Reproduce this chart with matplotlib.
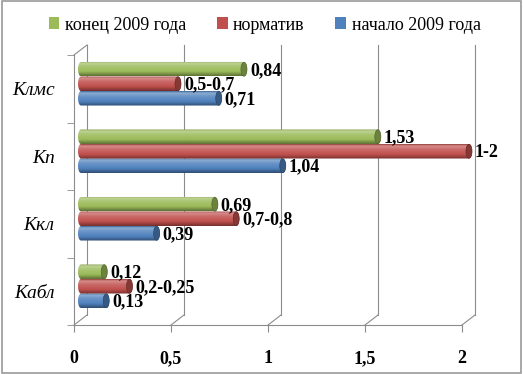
import numpy as np
import matplotlib
matplotlib.use('Agg')
import matplotlib.pyplot as plt
import matplotlib.font_manager as fm
from matplotlib import transforms
from matplotlib.patches import Ellipse, PathPatch, Patch, Rectangle
from matplotlib.path import Path
from matplotlib.colors import to_rgb

# данные
cats = ['Кабл', 'Ккл', 'Кп', 'Клмс']
series = ['начало 2009 года', 'норматив', 'конец 2009 года']
start = [0.13, 0.39, 1.04, 0.71]
norm = [0.25, 0.8, 2.0, 0.5]
end = [0.12, 0.69, 1.53, 0.84]
start_lbl = ['0,13', '0,39', '1,04', '0,71']
norm_lbl = ['0,2-0,25', '0,7-0,8', '1-2', '0,5-0,7']
end_lbl = ['0,12', '0,69', '1,53', '0,84']
xticks = [0, 0.5, 1, 1.5, 2]
xtick_lbl = ['0', '0,5', '1', '1,5', '2']

colors = ['#4F81BD', '#C0504D', '#9BBB59']
grid_c = '#8c8c8c'

names = {f.name for f in fm.fontManager.ttflist}
serif = 'Liberation Serif' if 'Liberation Serif' in names else 'DejaVu Serif'
plt.rcParams['font.family'] = 'serif'
plt.rcParams['font.serif'] = [serif, 'DejaVu Serif']

fig = plt.figure(figsize=(5.23, 3.74), dpi=100)
fig.patch.set_facecolor('white')
fig.add_artist(Rectangle((0.004, 0.004), 0.992, 0.992, transform=fig.transFigure,
                         fill=False, edgecolor='#9a9a9a', lw=1.2))

ax = fig.add_axes([74 / 523, 49 / 374, 388 / 523, 270 / 374])
ax.set_xlim(0, 2)
ax.set_ylim(-0.5, len(cats) - 0.5)
ax.patch.set_alpha(0)

back = transforms.offset_copy(ax.transData, fig=fig, x=13, y=10, units='dots')
mid = transforms.offset_copy(ax.transData, fig=fig, x=7, y=5, units='dots')

# задняя стенка и пол
ytop = len(cats) - 0.5
for v in xticks:
    ax.plot([v, v], [-0.5, ytop], color=grid_c, lw=0.8, transform=back, clip_on=False)
    p0 = ax.transData.transform((v, -0.5))
    p1 = back.transform((v, -0.5))
    ax.plot(*ax.transData.inverted().transform([p0, p1]).T, color=grid_c, lw=0.8, clip_on=False)
p0 = ax.transData.transform((0, ytop))
p1 = back.transform((0, ytop))
ax.plot(*ax.transData.inverted().transform([p0, p1]).T, color=grid_c, lw=0.8, clip_on=False)

for s in ['top', 'right']:
    ax.spines[s].set_visible(False)
for s in ['left', 'bottom']:
    ax.spines[s].set_color(grid_c)
    ax.spines[s].set_linewidth(0.8)

ax.set_xticks(xticks)
ax.set_xticklabels(xtick_lbl, fontweight='bold', fontsize=13)
ax.set_yticks(np.arange(len(cats)))
ax.set_yticklabels(cats, fontstyle='italic', fontsize=14)
ax.set_yticks(np.arange(len(cats) + 1) - 0.5, minor=True)
ax.tick_params(axis='x', length=5, color=grid_c, pad=13)
ax.tick_params(axis='y', which='major', length=0, pad=14)
ax.tick_params(axis='y', which='minor', length=5, color=grid_c)


def shade(c, k):
    c = np.array(to_rgb(c))
    if k >= 0:
        return c + (1 - c) * k
    return c * (1 + k)


def cyl_path(v, y0, h, w):
    t = np.linspace(np.pi / 2, 3 * np.pi / 2, 24)
    left = np.column_stack([w / 2 * np.cos(t), y0 + h / 2 + h / 2 * np.sin(t)])
    t2 = np.linspace(-np.pi / 2, np.pi / 2, 24)
    right = np.column_stack([v + w / 2 * np.cos(t2), y0 + h / 2 + h / 2 * np.sin(t2)])
    verts = np.vstack([left, right, left[:1]])
    return Path(verts, closed=True)


bh = 0.215
cap_w = 6 / 194
data = [start, norm, end]
labels = [start_lbl, norm_lbl, end_lbl]
for si, (vals, lbls, col) in enumerate(zip(data, labels, colors)):
    stops = [0, 0.12, 0.35, 0.7, 1.0]
    cols = [shade(col, -0.2), shade(col, 0.35), shade(col, 0.15), shade(col, 0), shade(col, -0.4)]
    yy = np.linspace(0, 1, 40)
    grad = np.stack([np.interp(yy, stops, [c[i] for c in cols]) for i in range(3)], axis=-1)
    grad = grad[:, None, :]
    for ci, v in enumerate(vals):
        y0 = ci + (si - 1) * bh - bh / 2
        im = ax.imshow(grad, extent=[-cap_w / 2, v + cap_w / 2, y0, y0 + bh], aspect='auto',
                       transform=mid, interpolation='bilinear', zorder=3)
        pp = PathPatch(cyl_path(v, y0, bh, cap_w), transform=mid, facecolor='none',
                       edgecolor='none', zorder=3, clip_on=False)
        ax.add_patch(pp)
        im.set_clip_path(pp)
        im.set_clip_box(fig.bbox)
        ax.add_patch(Ellipse((v, y0 + bh / 2), cap_w, bh * 0.96, transform=mid,
                             facecolor=shade(col, -0.3), edgecolor=shade(col, -0.45),
                             lw=0.5, zorder=4, clip_on=False))
        lt = transforms.offset_copy(ax.transData, fig=fig, x=13, y=4, units='dots')
        ax.text(v, y0 + bh / 2, lbls[ci], transform=lt, ha='left', va='center',
                fontweight='bold', fontsize=13, zorder=5)

ax.set_xlim(0, 2)
ax.set_ylim(-0.5, len(cats) - 0.5)

handles = [Patch(facecolor=c, edgecolor='none') for c in colors[::-1]]
fig.legend(handles, series[::-1], loc='center', bbox_to_anchor=(0.506, 0.933), ncol=3,
           frameon=False, prop={'size': 13}, handlelength=0.6,
           handleheight=0.6, handletextpad=0.3, columnspacing=1.7)

fig.savefig('out.png', dpi=100)
